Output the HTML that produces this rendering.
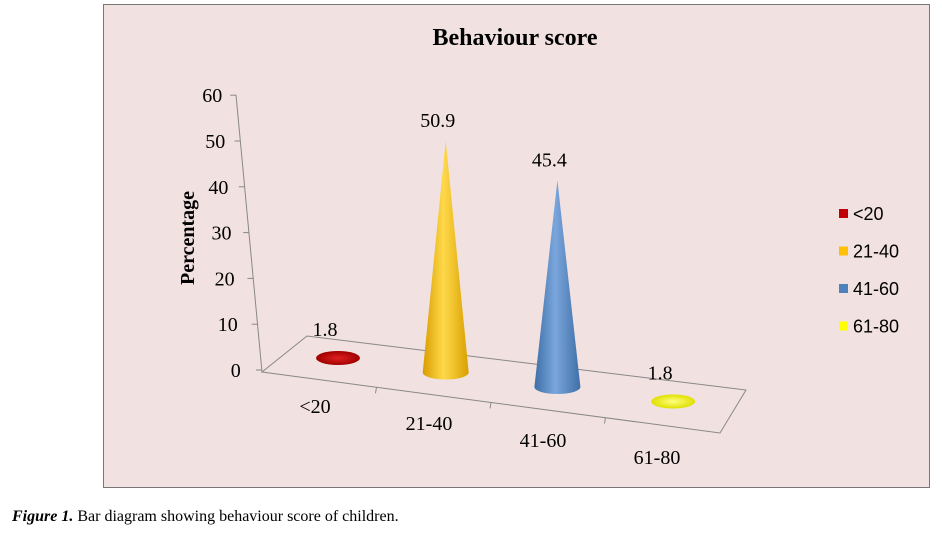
<!DOCTYPE html>
<html><head><meta charset="utf-8"><style>
body{margin:0;background:#fff;width:942px;height:534px;overflow:hidden;font-family:"Liberation Serif",serif;}
</style></head><body>
<svg width="942" height="534">
<defs>
<linearGradient id="gGold" x1="0" x2="1"><stop offset="0" stop-color="#d99c00"/><stop offset="0.45" stop-color="#ffd94a"/><stop offset="1" stop-color="#d9a000"/></linearGradient>
<linearGradient id="gBlue" x1="0" x2="1"><stop offset="0" stop-color="#3e6ea8"/><stop offset="0.45" stop-color="#7aa6dc"/><stop offset="1" stop-color="#3f6fa8"/></linearGradient>
<radialGradient id="gRed"><stop offset="0" stop-color="#e02020"/><stop offset="1" stop-color="#a00000"/></radialGradient>
<radialGradient id="gYel"><stop offset="0" stop-color="#ffff80"/><stop offset="1" stop-color="#e0e000"/></radialGradient>
</defs>
<rect x="103.5" y="4.5" width="826" height="483" fill="#f2e1e1" stroke="#777"/>
<text x="515" y="45" text-anchor="middle" font-size="24" font-weight="bold">Behaviour score</text>
<text transform="translate(194,238) rotate(-90)" text-anchor="middle" font-size="20" font-weight="bold">Percentage</text>
<g id="floor" fill="none" stroke="#888" stroke-width="1">
<polygon points="262,372 307,336 746,390 720,433"/>
<line x1="236" y1="95" x2="262" y2="372"/>
</g>
<g id="axes"></g>
<g id="marks"></g>
<g id="legend"></g>
<text x="12" y="521" font-size="16"><tspan font-weight="bold" font-style="italic">Figure 1.</tspan> Bar diagram showing behaviour score of children.</text>
</svg>
<script>
const categories=["<20","21-40","41-60","61-80"];
const values=[1.8,50.9,45.4,1.8];
const yTicks=[0,10,20,30,40,50,60];
const colors=["#c00000","#ffc000","#4f81bd","#ffff00"];
const fills=["url(#gRed)","url(#gGold)","url(#gBlue)","url(#gYel)"];
const NS="http://www.w3.org/2000/svg";
function el(t,a,p){const e=document.createElementNS(NS,t);for(const k in a)e.setAttribute(k,a[k]);p.appendChild(e);return e;}
function yAxis(v){return 370-v*4.58;}
function xAt(v){return 262-(370-yAxis(v))*26/277;}
const scale=4.55;
function baseX(i){return 338+i*111.7;}
function baseY(i){return 358+i*14.5;}
const axes=document.getElementById('axes');
yTicks.forEach(t=>{const y=yAxis(t),x=xAt(t);
const l=el('line',{x1:x-6,y1:y,x2:x,y2:y,stroke:'#888'},axes);


const tx=el('text',{x:x-14-(60-t)*0.12,y:y+7,'text-anchor':'end','font-size':20},axes);tx.textContent=t;

});
categories.forEach((c,i)=>{
const fx=262+(i+1)*114.5, fy=372+(i+1)*15.2;
if(i<3){const l=el('line',{x1:fx,y1:fy,x2:fx-1,y2:fy+6,stroke:'#888'},axes);

}
const tx=el('text',{x:315+i*114,y:413+i*17,'text-anchor':'middle','font-size':20},axes);tx.textContent=c;

});
const marks=document.getElementById('marks');
values.forEach((v,i)=>{const bx=baseX(i)-(i==1||i==2?4:0),by=baseY(i),h=v*scale,r=v<5?22:23;
const g=el('g',{},marks);


if(h>15){el('path',{d:`M${bx-r},${by} L${bx},${by-h} L${bx+r},${by} A${r},7 0 0 1 ${bx-r},${by} Z`,fill:fills[i]},g);}
else{el('ellipse',{cx:bx,cy:by,rx:r,ry:7,fill:fills[i]},g);}
const tx=el('text',{x:bx-(h>15?8:13),y:by-h-14,'text-anchor':'middle','font-size':20},g);tx.textContent=v;

});
const lg=document.getElementById('legend');
categories.forEach((c,i)=>{const y=214+i*37.5;
const g=el('g',{},lg);


el('rect',{x:839,y:y-5,width:9,height:9,fill:colors[i]},g);
const tx=el('text',{x:853,y:y+6,'font-size':18,'font-family':'Liberation Sans, sans-serif'},g);tx.textContent=c;});
</script>
</body></html>
